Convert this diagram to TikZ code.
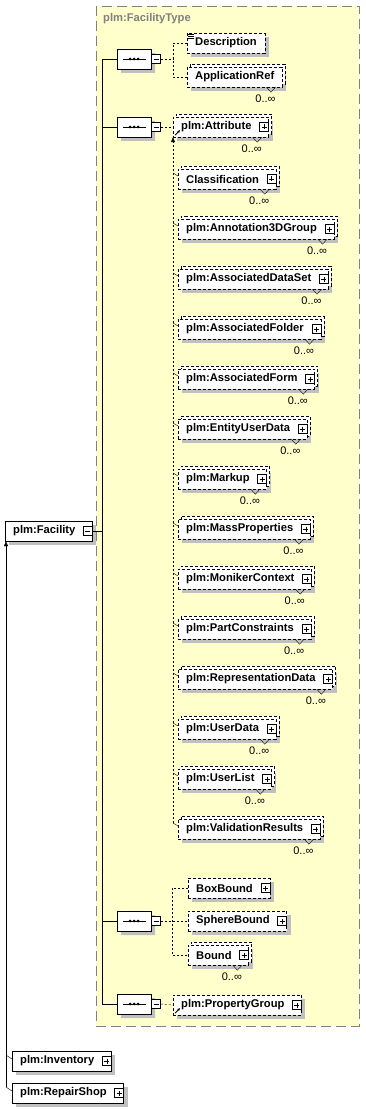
\documentclass[tikz,border=0pt]{standalone}
\usepackage{fontspec}
\setmainfont{Liberation Sans}
\usetikzlibrary{arrows.meta, positioning, calc, shapes.misc, shadows}

\definecolor{frameyellow}{RGB}{255,255,204}
\definecolor{framegray}{RGB}{128,128,128}
\definecolor{shadowgray}{RGB}{192,192,192}

\begin{document}
\begin{tikzpicture}[
    x=1pt, y=-1pt,
    elem/.style={
        rectangle, draw=black, fill=white,
        dash pattern=on 3pt off 2pt,
        minimum height=20pt, inner xsep=8pt, inner ysep=0pt,
        anchor=west, font=\bfseries\fontsize{11.2}{13}\selectfont,
        general shadow={fill=shadowgray, draw=none, shadow xshift=4pt, shadow yshift=-4pt}
    },
    fixed/.style={elem, solid},
    many/.style={
        copy shadow={draw=black, fill=white, dash pattern=on 3pt off 2pt,
            shadow xshift=3pt, shadow yshift=3pt}
    },
    seq/.style={
        chamfered rectangle, chamfered rectangle sep=5pt,
        draw=black, fill=white, inner sep=0pt,
        minimum width=34pt, minimum height=20pt, anchor=west,
        general shadow={fill=shadowgray, draw=none, shadow xshift=4pt, shadow yshift=-4pt}
    },
    pm/.style={rectangle, draw=black, solid, fill=white, minimum size=9pt, inner sep=0pt},
    minus/.style={pm, path picture={
        \draw[solid] ([xshift=2pt]path picture bounding box.west) -- ([xshift=-2pt]path picture bounding box.east);}},
    plus/.style={pm, path picture={
        \draw[solid] ([xshift=2pt]path picture bounding box.west) -- ([xshift=-2pt]path picture bounding box.east);
        \draw[solid] ([yshift=-2pt]path picture bounding box.north) -- ([yshift=2pt]path picture bounding box.south);}},
    kids/.style={
        execute at end node={\hspace{9pt}},
        append after command={node[#1, anchor=east] at (\tikzlastnode.east) {}}
    },
    branch/.style={dash pattern=on 2pt off 2pt},
    mult/.style={font=\fontsize{11}{13}\selectfont, inner sep=0pt},
    title/.style={font=\bfseries\fontsize{11.2}{13}\selectfont, text=framegray, anchor=west, inner sep=0pt},
    subarrow/.style={-{Triangle[length=5pt, width=4pt]}},
    refarrow/.style={-{Stealth[length=3pt, width=3pt]}, line width=0.8pt, solid}
]
\useasboundingbox (0,0) rectangle (365,1110);

% --- Type frame ---
\draw[framegray, fill=frameyellow, dash pattern=on 10pt off 5pt] (96,6) rectangle (359,1026);
\node[title] (typename) at (103,19) {plm:FacilityType};

% --- Root element ---
\node[fixed, kids=minus] (fac) at (5,531) {plm:Facility};

% --- Sequences ---
\node[seq] (seqA) at (117,59) {};
\node[minus, right=0pt of seqA] (seqAm) {};
\node[seq] (seqB) at (117,127) {};
\node[minus, right=0pt of seqB] (seqBm) {};
\node[seq] (seqC) at (117,921) {};
\node[minus, right=0pt of seqC] (seqCm) {};
\node[seq] (seqD) at (117,1004) {};
\node[minus, right=0pt of seqD] (seqDm) {};

\foreach \s in {seqA, seqB, seqC, seqD} {
    \draw ($(\s.west)+(6,0)$) -- ($(\s.east)+(-5,0)$);
    \foreach \d in {-4,0,4}
        \fill ($(\s.center)+(\d,0)$) circle (1.5);
}

% --- Sequence 1 ---
\node[elem] (desc) at (187,43) {Description};
\node[elem, many] (appref) at (187,77) {ApplicationRef};

% --- Sequence 2: substitution group ---
\node[elem, many, kids=plus] (attr) at (173,127) {plm:Attribute};
\node[elem, many, kids=plus] (cls) at (178,179) {Classification};
\node[elem, many, kids=plus] (anno) at (178,229) {plm:Annotation3DGroup};
\node[elem, many, kids=plus] (dataset) at (178,279) {plm:AssociatedDataSet};
\node[elem, many, kids=plus] (folder) at (178,329) {plm:AssociatedFolder};
\node[elem, many, kids=plus] (form) at (178,379) {plm:AssociatedForm};
\node[elem, many, kids=plus] (euser) at (178,429) {plm:EntityUserData};
\node[elem, many, kids=plus] (markup) at (178,479) {plm:Markup};
\node[elem, many, kids=plus] (mass) at (178,529) {plm:MassProperties};
\node[elem, many, kids=plus] (moniker) at (178,579) {plm:MonikerContext};
\node[elem, many, kids=plus] (parts) at (178,629) {plm:PartConstraints};
\node[elem, many, kids=plus] (repr) at (178,679) {plm:RepresentationData};
\node[elem, many, kids=plus] (udata) at (178,729) {plm:UserData};
\node[elem, many, kids=plus] (ulist) at (178,779) {plm:UserList};
\node[elem, many, kids=plus] (valres) at (178,829) {plm:ValidationResults};

% --- Sequence 3 ---
\node[elem, kids=plus] (boxb) at (188,888) {BoxBound};
\node[elem, kids=plus] (sphb) at (188,921) {SphereBound};
\node[elem, many, kids=plus] (bound) at (188,955) {Bound};

% --- Sequence 4 ---
\node[elem, kids=plus] (pgroup) at (173,1005) {plm:PropertyGroup};

% --- Derived elements ---
\node[fixed, kids=plus] (inv) at (12,1061) {plm:Inventory};
\node[fixed, kids=plus] (rshop) at (12,1093) {plm:RepairShop};

% --- Occurrence marks ---
\foreach \n in {appref, attr, cls, anno, dataset, folder, form, euser, markup,
                mass, moniker, parts, repr, udata, ulist, valres, bound} {
    \draw ($(\n.south east)+(-16,0)$) -- ++(4.5,5) -- ++(4.5,-5);
    \node[mult] at ($(\n.south east)+(-17,12)$) {0..∞};
}

% Description text icon
\foreach \d in {0,2,4}
    \draw ($(desc.north west)+(1,1+\d)$) -- ++(6,0);

% Reference icons
\draw[refarrow] ($(attr.south west)+(2,-2)$) -- ++(5,-5);
\draw[refarrow] ($(pgroup.south west)+(2,-2)$) -- ++(5,-5);

% --- Main spine ---
\coordinate (spine) at (102,0);
\draw (fac.east) -- (fac.east -| spine);
\draw (seqA.west) -- (seqA.west -| spine) -- (seqD.west -| spine) -- (seqD.west);
\draw (seqB.west -| spine) -- (seqB.west);
\draw (seqC.west -| spine) -- (seqC.west);

% --- Branches ---
\coordinate (forkA) at (173,0);
\draw[branch] (seqAm.east) -- (seqAm.east -| forkA);
\draw[branch] (desc.west) -- (desc.west -| forkA) -- (appref.west -| forkA) -- (appref.west);

\draw[branch] (seqBm.east) -- (attr.west);

\coordinate (forkC) at (172,0);
\draw[branch] (seqCm.east) -- (sphb.west);
\draw[branch] (boxb.west) -- (boxb.west -| forkC) -- (bound.west -| forkC) -- (bound.west);

\draw[branch] (seqDm.east) -- (pgroup.west);

% --- Substitution group line ---
\coordinate (subst) at (attr.south west);
\draw[branch, subarrow] (valres.west -| subst) ++(0,-6) -- (subst);
\foreach \n in {cls, anno, dataset, folder, form, euser, markup,
                mass, moniker, parts, repr, udata, ulist, valres}
    \draw (\n.west -| subst) ++(0,-6) -- ($(\n.west)+(0,-3)$);

% --- Derived from plm:Facility ---
\coordinate (base) at (6,0);
\draw[subarrow] (rshop.west -| base) ++(0,-6) -- (fac.south -| base);
\draw (inv.west -| base) ++(0,-6) -- ($(inv.west)+(0,-2)$);
\draw (rshop.west -| base) ++(0,-6) -- ($(rshop.west)+(0,-2)$);

\end{tikzpicture}
\end{document}
